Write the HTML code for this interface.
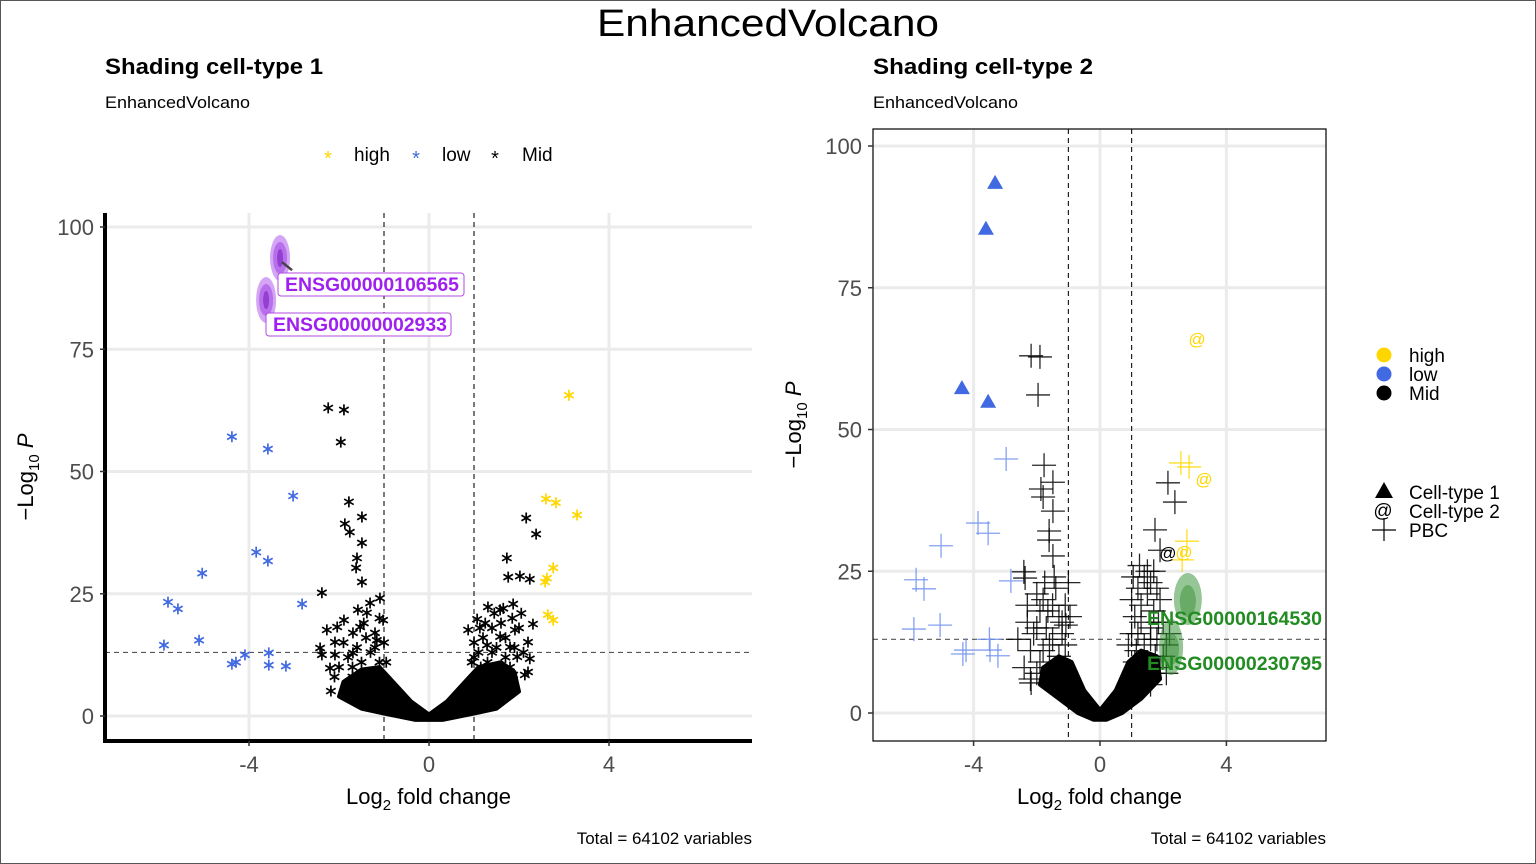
<!DOCTYPE html>
<html><head><meta charset="utf-8"><style>
html,body{margin:0;padding:0;background:#fff;}
svg{display:block;font-family:"Liberation Sans",sans-serif;}
</style></head><body>
<svg id="chart" width="1536" height="864" viewBox="0 0 1536 864">
<rect x="0.5" y="0.5" width="1535" height="863" fill="#fff" stroke="#555"/>
<text x="768" y="36" font-size="38" text-anchor="middle" textLength="342" lengthAdjust="spacingAndGlyphs">EnhancedVolcano</text>
<text x="105" y="74" font-size="22" font-weight="bold" textLength="218" lengthAdjust="spacingAndGlyphs">Shading cell-type 1</text>
<text x="105" y="108" font-size="17" textLength="145" lengthAdjust="spacingAndGlyphs">EnhancedVolcano</text>
<text x="873" y="74" font-size="22" font-weight="bold" textLength="220" lengthAdjust="spacingAndGlyphs">Shading cell-type 2</text>
<text x="873" y="108" font-size="17" textLength="145" lengthAdjust="spacingAndGlyphs">EnhancedVolcano</text>
<g font-size="19">
<text x="328" y="165" fill="#FFD700" font-size="20" text-anchor="middle">*</text><text x="354" y="161">high</text>
<text x="416" y="165" fill="#4169E1" font-size="20" text-anchor="middle">*</text><text x="442" y="161">low</text>
<text x="495" y="165" fill="#000" font-size="20" text-anchor="middle">*</text><text x="522" y="161">Mid</text>
</g>
<g font-size="19">
<circle cx="1384" cy="355" r="7.5" fill="#FFD700"/><text x="1409" y="362">high</text>
<circle cx="1384" cy="374" r="7.5" fill="#4169E1"/><text x="1409" y="381">low</text>
<circle cx="1384" cy="393" r="7.5" fill="#000"/><text x="1409" y="400">Mid</text>
<polygon points="1375,498 1384,482 1393,498" fill="#000"/><text x="1409" y="499">Cell-type 1</text>
<text x="1383" y="517" text-anchor="middle" font-size="19">@</text><text x="1409" y="518">Cell-type 2</text>
<path d="M1372,530H1396M1384,518V541" stroke="#000" stroke-width="1.2"/><text x="1409" y="537">PBC</text>
</g>
<g id="L"></g><g id="R"></g>
<text x="752" y="844" font-size="17" text-anchor="end">Total = 64102 variables</text>
<text x="1326" y="844" font-size="17" text-anchor="end">Total = 64102 variables</text>
</svg>
<script>
// ---- data ----
const xTicks = [-4, 0, 4];
const yTicks = [0, 25, 50, 75, 100];
const fcCut = 1;
const pCut = 13;
// left panel (cell-type 1), [log2FC, -log10P]
const leftHigh = [[3.11,65.6],[2.6,44.4],[2.82,43.6],[3.29,41.1],[2.76,30.3],[2.62,28.2],[2.58,27.4],[2.64,20.7],[2.76,19.6]];
const leftLow = [[-4.38,57.1],[-3.58,54.6],[-3.02,45],[-3.84,33.5],[-3.58,31.7],[-5.04,29.2],[-5.8,23.3],[-5.58,21.9],[-2.82,22.9],[-5.11,15.5],[-5.89,14.5],[-4.09,12.5],[-4.29,11],[-4.38,10.6],[-3.56,12.9],[-3.56,10.4],[-3.18,10.2]];
const leftMid = [[-2.24,63],[-1.89,62.6],[-1.96,56],[-1.78,43.8],[-1.49,40.7],[-1.87,39.3],[-1.76,37.6],[-1.49,35.4],[-1.6,32.3],[-1.62,30.3],[-1.49,27.4],[-2.38,25.2],[-1.09,24.1],[-1.31,23.1],[-1.58,21.7],[-1.89,19.6],[-2.27,17.6],[-2.04,18.2],[-2.42,13.9],[-2.38,12.5],[-2.09,12.5],[-2.2,9.8],[-2.18,5.1],[-1.8,6.7],[-1.38,21.1],[-1.53,18.2],[-2.09,15.1],[-1.69,12.9],[-1.69,17],[-1.02,19.6],[-1.16,15.5],[-1.7,10],[-1.4,8],[-1.1,11],[-1.2,14],
[-2.0,10],[-1.8,12],[-1.6,14],[-1.4,16],[-1.3,13],[-1.2,17],[-1.0,15],[-0.95,11],[-1.5,11],[-1.9,15],[-1.1,20],[-1.45,19],[-1.7,8],[-2.1,8],[-1.25,9],
[2.16,40.5],[2.38,37.2],[1.73,32.3],[1.76,28.4],[2.02,28.6],[2.24,28],[1.87,22.9],[1.31,22.3],[1.58,21.7],[2.31,18.8],[1.07,19.8],[1.91,17.6],[2.2,15.1],[1.13,18],[1.58,16.2],[2.24,11.7],[2.13,8.4],[1.87,8.4],[1.8,14.1],[1.29,14.5],[0.87,17.6],[1.96,12.1],[1.5,10],[1.7,12],[1.4,13],[1.0,12],
[1.0,15],[1.1,13],[1.2,16],[1.3,11],[1.4,18],[1.5,14],[1.6,19],[1.7,16],[1.8,10],[1.9,14],[2.0,18],[2.1,13],[2.2,9],[1.25,19],[1.45,21],[1.65,22],[1.85,20],[2.05,21],[0.95,11],[1.15,10]];
const leftCloud = [[-1.9,7],[-1.5,9.5],[-1.1,10],[-0.8,7],[-0.4,3],[0,0.3],[0.4,3],[0.8,7],[1.1,10],[1.6,11],[1.9,9],[2.0,5],[1.5,1.5],[1,0.5],[0.3,-0.8],[-0.3,-0.8],[-1,0.5],[-1.5,1.5],[-2.0,4]];
const leftGenes = [[-3.31,92.8],[-3.62,84]];
const leftGeneNames = ["ENSG00000106565","ENSG00000002933"];
// right panel (cell-type 2)
const rightTri = [[-3.32,93.5],[-3.61,85.4],[-4.37,57.3],[-3.54,54.9]];
const rightAtHigh = [[3.07,66],[3.29,41.3],[2.66,28.4]];
const rightAtMid = [[2.15,28.2]];
const rightPlusHigh = [[2.56,44.1],[2.82,43.4],[2.75,30.3],[2.6,27]];
const rightPlusLow = [[-2.97,44.8],[-3.86,33.5],[-3.54,31.7],[-5.03,29.5],[-5.82,23.5],[-5.57,21.9],[-2.82,23.3],[-5.06,15.5],[-5.89,14.8],[-4.24,11.1],[-4.34,10.4],[-3.48,11.1],[-3.23,10.1],[-3.5,13]];
const rightPlusMid = [[-2.18,63],[-1.9,62.8],[-1.96,56.1],[-1.77,43.7],[-1.49,40.7],[-1.87,39.5],[-1.8,38.1],[-1.49,35.6],[-1.61,32.1],[-1.61,30.5],[-1.49,27.7],[-2.41,24.9],[-2.37,23.8],[2.15,40.6],[2.37,37.2],[1.74,32.3],[1.9,28.7],[-2.18,5.3],[-1.08,15.5],
[-2.3,16],[-2.1,14],[-2.2,11],[-1.9,18],[-1.8,20],[-1.7,15],[-1.6,12],[-1.5,19],[-1.4,22],[-1.3,17],[-1.2,14],[-1.9,9],[-2.4,8],[-1.6,8],[-1.3,10],[-1.1,19],[-1.0,23],[-2.6,13],[-2.0,21],[-1.75,23],
[-2.2,6],[-2.0,7],[-1.8,11],[-1.5,13],[-1.2,16],[-1.1,12],[-0.95,17],[-1.35,7],[-2.0,15],[-1.65,18],[-2.3,19],[-1.45,24],
[1.0,20],[1.1,17],[1.2,22],[1.3,19],[1.4,24],[1.5,21],[1.6,23],[1.7,18],[1.8,22],[1.9,20],[2.0,16],[1.2,14],[1.4,12],[1.6,15],[1.8,13],[2.0,10],[1.9,8],[1.1,9],[1.5,25],[0.9,12],[1.3,6],[1.7,7],
[1.0,14],[1.15,11],[1.3,16],[1.45,8],[1.6,13],[1.75,10],[1.85,16],[2.1,12],[2.2,14],[1.05,24],[1.25,26],[1.7,25],[2.1,7],[1.6,5]];
const rightCloud = [[-1.8,8],[-1.3,10],[-0.9,9],[-0.5,4],[0,0.5],[0.5,4],[0.9,9],[1.3,11],[1.8,10],[1.9,6],[1.3,2.5],[0.7,0],[0.2,-1.2],[-0.2,-1.2],[-0.7,0],[-1.3,2.5],[-1.9,5]];
const rightGenes = [[2.78,20.1],[2.25,12]];
const rightGeneNames = ["ENSG00000164530","ENSG00000230795"];

const NS = "http://www.w3.org/2000/svg";
function mk(parent, tag, attrs, text){const e=document.createElementNS(NS,tag);for(const k in attrs)e.setAttribute(k,attrs[k]);if(text!==undefined)e.textContent=text;parent.appendChild(e);return e;}
function star(g,x,y,col){const r=5.5;let d="";for(let i=0;i<3;i++){const a=Math.PI/2+i*Math.PI/3;d+=`M${x+r*Math.cos(a)},${y-r*Math.sin(a)}L${x-r*Math.cos(a)},${y+r*Math.sin(a)}`;}return mk(g,"path",{d:d,stroke:col,"stroke-width":1.7,fill:"none"});}

function panel(g,o){
  const X=v=>o.x0+o.sx*v, Y=v=>o.y0-o.sy*v;
  const grid=mk(g,"g",{});
  
  
  xTicks.forEach(t=>mk(grid,"line",{x1:X(t),x2:X(t),y1:o.top,y2:o.bot,stroke:"#ebebeb","stroke-width":3}));
  yTicks.forEach(t=>mk(grid,"line",{x1:o.left,x2:o.right,y1:Y(t),y2:Y(t),stroke:"#ebebeb","stroke-width":3}));
  const th=mk(g,"g",{stroke:"#000","stroke-width":1.2,"stroke-dasharray":"5,4",fill:"none"});
  
  
  [-fcCut,fcCut].forEach(t=>mk(th,"line",{x1:X(t),x2:X(t),y1:o.top,y2:o.bot,stroke:"#222"}));
  mk(th,"line",{x1:o.left,x2:o.right,y1:Y(pCut),y2:Y(pCut),stroke:"#555"});
  return {X,Y};
}
function axes(g,o,sc){
  const ax=mk(g,"g",{fill:"#4d4d4d","font-size":22});
  
  
  if(o.box){mk(ax,"rect",{x:o.left,y:o.top,width:o.right-o.left,height:o.bot-o.top,fill:"none",stroke:"#000","stroke-width":1.2});}
  else{mk(ax,"path",{d:`M${o.left},${o.top}V${o.bot}H${o.right}`,stroke:"#000","stroke-width":4,fill:"none"});}
  xTicks.forEach(t=>{mk(ax,"line",{x1:sc.X(t),x2:sc.X(t),y1:o.bot,y2:o.bot+5,stroke:"#333","stroke-width":1.5});const l=mk(ax,"text",{x:sc.X(t),y:o.bot+31,"text-anchor":"middle"},String(t));});
  yTicks.forEach(t=>{mk(ax,"line",{x1:o.left-5,x2:o.left,y1:sc.Y(t),y2:sc.Y(t),stroke:"#333","stroke-width":1.5});const l=mk(ax,"text",{x:o.left-11,y:sc.Y(t)+8,"text-anchor":"end"},String(t));});
  const xt=mk(g,"text",{x:(o.left+o.right)/2,y:o.bot+63,"text-anchor":"middle","font-size":22});
  
  
  xt.innerHTML='Log<tspan font-size="15" dy="6">2</tspan><tspan dy="-6"> fold change</tspan>';
  const cy=(o.top+o.bot)/2+(o.box?-10:0);
  const yt=mk(g,"text",{x:0,y:0,"text-anchor":"middle","font-size":22,transform:`translate(${o.left-72},${cy}) rotate(-90)`});
  
  
  yt.innerHTML='−Log<tspan font-size="15" dy="6">10</tspan><tspan dy="-6"> </tspan><tspan font-style="italic">P</tspan>';
}
function cloud(g,sc,arr,name){const p=mk(g,"polygon",{points:arr.map(d=>sc.X(d[0])+","+sc.Y(d[1])).join(" "),fill:"#000","stroke":"#000","stroke-width":4,"stroke-linejoin":"round"});}

// LEFT
const oL={name:"left",x0:429,sx:45,y0:716,sy:4.89,left:105,right:752,top:213,bot:741};
const gL=document.getElementById("L");
const sL=panel(gL,oL);
cloud(gL,sL,leftCloud,"left-dense-cloud");
[[leftMid,"#000"],[leftLow,"#4169E1"],[leftHigh,"#FFD700"]].forEach(([arr,col])=>arr.forEach(d=>{const s=star(gL,sL.X(d[0]),sL.Y(d[1]),col);}));
leftGenes.forEach((d,i)=>{
  const x=sL.X(d[0]),y=sL.Y(d[1]);
  const gg=mk(gL,"g",{});
  
  
  const cy=i===0?258:300;
  mk(gg,"ellipse",{cx:x,cy:cy,rx:10,ry:23,fill:"#c07ff0",opacity:0.7});
  mk(gg,"ellipse",{cx:x,cy:cy,rx:7,ry:16,fill:"#a64be6",opacity:0.6});
  mk(gg,"ellipse",{cx:x,cy:cy,rx:3,ry:9,fill:"#7a1fc0",opacity:0.6});
  if(i===0)mk(gg,"line",{x1:x+2,x2:x+12,y1:y,y2:y+8,stroke:"#444","stroke-width":2.5});
  const bx=i===0?278:266, by=i===0?273:313;
  mk(gg,"rect",{x:bx,y:by,width:i===0?186:185,height:23,rx:3,fill:"#fff",stroke:"#b44be1","stroke-width":1});
  mk(gg,"text",{x:bx+7,y:by+18,"font-size":19,"font-weight":"bold",fill:"#a020f0",textLength:174,lengthAdjust:"spacingAndGlyphs"},leftGeneNames[i]);
});
axes(gL,oL,sL);

// RIGHT
const oR={name:"right",x0:1100,sx:31.6,y0:713,sy:5.67,left:873,right:1326,top:129,bot:741,box:true};
const gR=document.getElementById("R");
const sR=panel(gR,oR);
cloud(gR,sR,rightCloud,"right-dense-cloud");
function plus(g,x,y,col){return mk(g,"path",{d:`M${x-12},${y}H${x+12}M${x},${y-12}V${y+12}`,stroke:col,"stroke-width":1.3,opacity:0.85,fill:"none"});}
[[rightPlusMid,"#000"],[rightPlusLow,"#6f8ff0"],[rightPlusHigh,"#FFD700"]].forEach(([arr,col])=>arr.forEach(d=>{const s=plus(gR,sR.X(d[0]),sR.Y(d[1]),col);}));
rightTri.forEach(d=>{const x=sR.X(d[0]),y=sR.Y(d[1]);const t=mk(gR,"polygon",{points:`${x-8},${y+6} ${x},${y-8} ${x+8},${y+6}`,fill:"#4169E1"});});
[[rightAtHigh,"#FFD700"],[rightAtMid,"#000"]].forEach(([arr,col])=>arr.forEach(d=>{const t=mk(gR,"text",{x:sR.X(d[0]),y:sR.Y(d[1])+6,"text-anchor":"middle","font-size":17,fill:col},"@");}));
rightGenes.forEach((d,i)=>{
  const x=sR.X(d[0]),y=sR.Y(d[1]);
  const gg=mk(gR,"g",{});
  
  
  const cy=i===0?599:647;
  mk(gg,"ellipse",{cx:x,cy:cy,rx:i===0?14:12,ry:i===0?26:28,fill:"#2e8b2e",opacity:0.5});
  mk(gg,"ellipse",{cx:x,cy:cy+2,rx:8,ry:16,fill:"#2e8b2e",opacity:0.45});
  mk(gg,"text",{x:1147,y:i===0?625:670,"font-size":19,"font-weight":"bold",fill:"#228b22",textLength:175,lengthAdjust:"spacingAndGlyphs"},rightGeneNames[i]);
});
axes(gR,oR,sR);
</script>
</body></html>
